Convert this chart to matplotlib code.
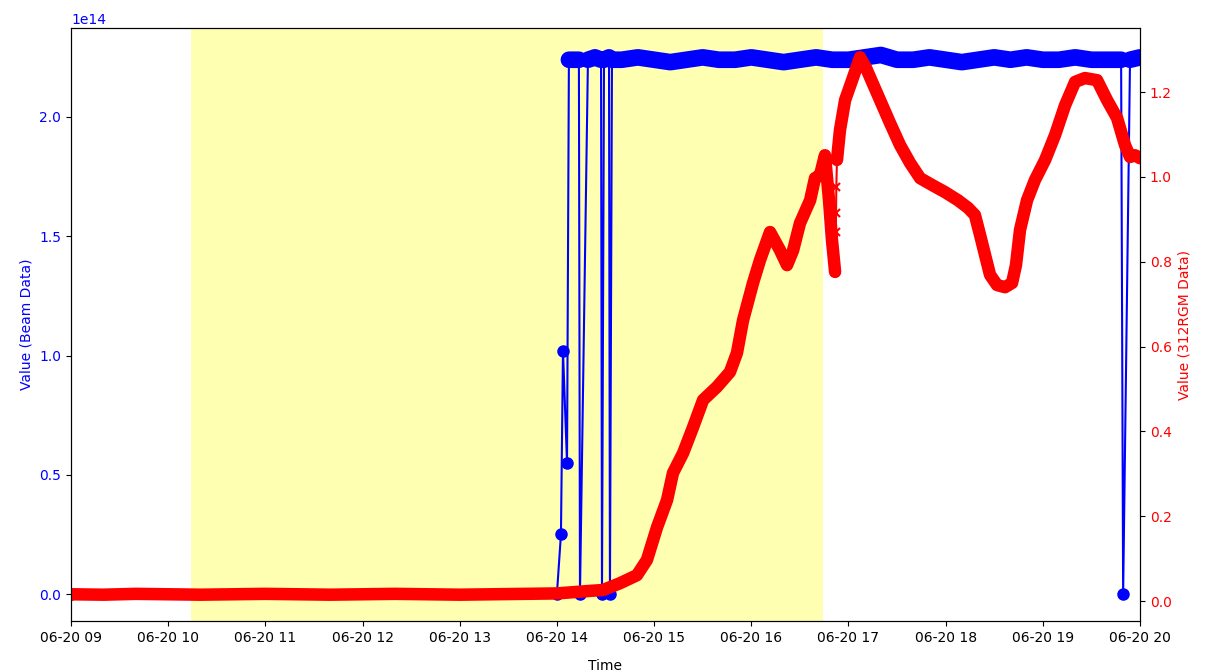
import numpy as np
import pandas as pd
import matplotlib
matplotlib.use("Agg")
import matplotlib.pyplot as plt
import matplotlib.dates as mdates

# Daten ------------------------------------------------------------------------

day = "2024-06-20 "

# Strahldaten (Beam), Werte in 1e14
beam_time = ["09:00:00", "14:00:00",
             "14:02:30", "14:03:45", "14:06:15", "14:07:25", "14:13:35", "14:14:15",
             "14:19:10", "14:23:30", "14:27:15", "14:27:50", "14:29:05", "14:32:10",
             "14:32:45", "14:34:00",
             "14:40:00", "14:50:00", "15:00:00", "15:10:00", "15:20:00", "15:30:00",
             "15:40:00", "15:50:00", "16:00:00", "16:10:00", "16:20:00", "16:30:00",
             "16:40:00", "16:50:00", "17:00:00", "17:10:00", "17:20:00", "17:30:00",
             "17:40:00", "17:50:00", "18:00:00", "18:10:00", "18:20:00", "18:30:00",
             "18:40:00", "18:50:00", "19:00:00", "19:10:00", "19:20:00", "19:30:00",
             "19:40:00", "19:48:20", "19:49:35", "19:53:50", "20:00:00"]
beam_value = [0.0, 0.0,
              0.25, 1.02, 0.55, 2.24, 2.24, 0.0,
              2.24, 2.25, 2.24, 0.0, 2.24, 2.25,
              0.0, 2.24,
              2.24, 2.25, 2.24, 2.23, 2.24, 2.25,
              2.24, 2.24, 2.25, 2.24, 2.23, 2.24,
              2.25, 2.24, 2.24, 2.25, 2.26, 2.24,
              2.24, 2.25, 2.24, 2.23, 2.24, 2.25,
              2.24, 2.25, 2.24, 2.24, 2.25, 2.24,
              2.24, 2.24, 0.0, 2.24, 2.25]

# 312RGM Daten
rgm_time = ["09:00:00", "09:20:00", "09:40:00", "10:00:00", "10:20:00", "10:40:00",
            "11:00:00", "11:20:00", "11:40:00", "12:00:00", "12:20:00", "12:40:00",
            "13:00:00", "13:20:00", "13:40:00", "14:00:00",
            "14:20:30", "14:28:25", "14:38:55", "14:49:25", "14:55:35", "15:01:50",
            "15:08:00", "15:11:40", "15:17:55", "15:24:05", "15:30:15", "15:38:50",
            "15:46:50", "15:51:10", "15:54:55", "16:01:05", "16:05:25", "16:11:35",
            "16:17:45", "16:22:05", "16:25:50", "16:30:05", "16:36:20", "16:39:20",
            "16:42:25", "16:45:30", "16:48:00", "16:49:50", "16:51:45",
            "16:52:10", "16:52:20", "16:52:30", "16:52:55",
            "16:54:45", "16:57:55", "17:02:15", "17:07:10", "17:10:50", "17:14:35",
            "17:19:30", "17:25:40", "17:31:50", "17:38:00", "17:44:15", "17:51:35",
            "17:59:40", "18:07:35", "18:13:50", "18:18:05", "18:21:15", "18:24:20",
            "18:27:25", "18:31:45", "18:36:40", "18:41:00", "18:43:25", "18:45:55",
            "18:50:15", "18:55:10", "19:01:25", "19:07:35", "19:13:45", "19:19:55",
            "19:26:00", "19:33:30", "19:39:40", "19:45:50", "19:50:45", "19:53:50",
            "19:56:55", "20:00:00"]
rgm_value = [0.016, 0.015, 0.017, 0.016, 0.015, 0.016,
             0.017, 0.016, 0.015, 0.016, 0.017, 0.016,
             0.015, 0.016, 0.017, 0.018,
             0.024, 0.026, 0.042, 0.061, 0.097, 0.174,
             0.238, 0.302, 0.349, 0.410, 0.474, 0.505,
             0.540, 0.585, 0.662, 0.750, 0.804, 0.870,
             0.827, 0.792, 0.827, 0.891, 0.945, 0.997,
             1.004, 1.051, 0.945, 0.851, 0.776,
             0.870, 0.915, 0.976, 1.040,
             1.110, 1.181, 1.228, 1.282, 1.257, 1.224,
             1.181, 1.127, 1.075, 1.033, 0.997, 0.981,
             0.964, 0.945, 0.927, 0.910, 0.863, 0.816,
             0.769, 0.745, 0.740, 0.750, 0.792, 0.875,
             0.945, 0.993, 1.040, 1.099, 1.169, 1.224,
             1.233, 1.228, 1.181, 1.139, 1.075, 1.047,
             1.051, 1.044]

# markierter Zeitraum
span_start = "10:14:00"
span_end = "16:44:00"

# Aufbereitung -----------------------------------------------------------------

t_beam = pd.to_datetime([day + t for t in beam_time])
v_beam = np.array(beam_value) * 1e14
t_rgm = pd.to_datetime([day + t for t in rgm_time])
v_rgm = np.array(rgm_value)

# dichte Abschnitte (Plateau beim Strahl, ohne Lücke bei 312RGM)
beam_band = np.ma.masked_where(v_beam < 2e14, v_beam)
gap = (t_rgm > pd.Timestamp(day + "16:51:50")) & (t_rgm < pd.Timestamp(day + "16:52:50"))
rgm_band = np.ma.masked_where(gap, v_rgm)

# Plot -------------------------------------------------------------------------

fig, ax1 = plt.subplots(figsize=(12.07, 6.72), dpi=100)
fig.subplots_adjust(left=0.0588, right=0.9445, top=0.9583, bottom=0.0759)

ax1.axvspan(pd.Timestamp(day + span_start), pd.Timestamp(day + span_end),
            color='yellow', alpha=0.3, lw=0)

ax1.plot(t_beam, v_beam, 'o-', color='blue', ms=8, lw=1.5)
ax1.plot(t_beam, beam_band, '-', color='blue', lw=12, solid_capstyle='round')
ax1.set_ylabel('Value (Beam Data)', color='blue')
ax1.tick_params(axis='y', labelcolor='blue')
ax1.yaxis.get_offset_text().set_color('blue')
ax1.set_ylim(-0.113e14, 2.373e14)

ax2 = ax1.twinx()
ax2.plot(t_rgm, v_rgm, 'x-', color='red', ms=6, mew=1.5, lw=1.5)
ax2.plot(t_rgm, rgm_band, '-', color='red', lw=9, solid_capstyle='round')
ax2.set_ylabel('Value (312RGM Data)', color='red')
ax2.tick_params(axis='y', labelcolor='red')
ax2.set_ylim(-0.047, 1.351)

ax1.set_xlim(pd.Timestamp(day + "09:00"), pd.Timestamp(day + "20:00"))
ax1.xaxis.set_major_locator(mdates.HourLocator(interval=1))
ax1.xaxis.set_major_formatter(mdates.DateFormatter('%m-%d %H'))
ax1.set_xlabel('Time', labelpad=10)

plt.savefig('out.png')
